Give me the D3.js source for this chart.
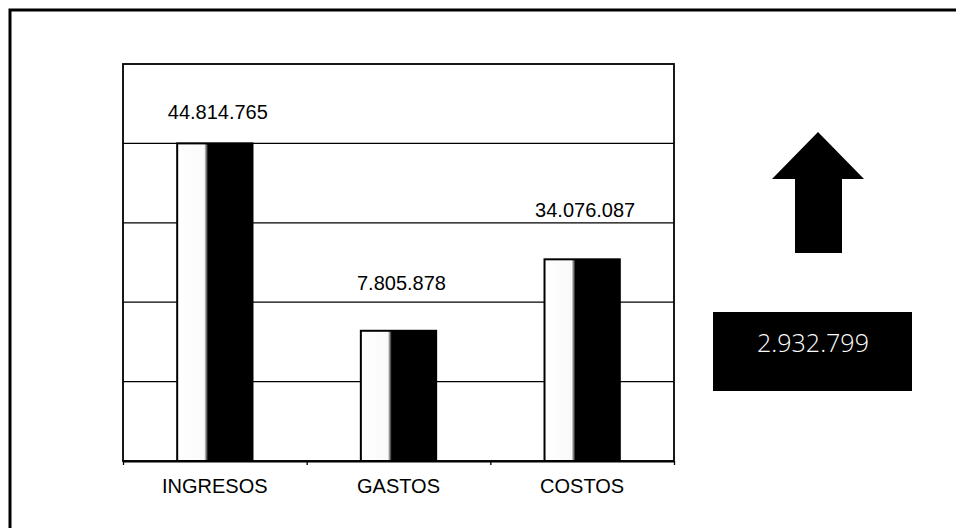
<!DOCTYPE html>
<html>
<head>
<meta charset="utf-8">
<script src="https://cdn.jsdelivr.net/npm/d3@7"></script>
<style>
	body { margin: 0; background: #fff; }
	svg { display: block; }
	.cat-label, .value-label { font-family: "Liberation Sans", Arial, sans-serif; font-size: 20px; fill: #000; }
	.result-label { font-family: "Open Sans", sans-serif; font-weight: 300; font-size: 25px; fill: #fff; }
</style>
</head>
<body>
<div id="chart"></div>
<script>
// categories and values (value labels as printed)
var categories = ["INGRESOS", "GASTOS", "COSTOS"];
var values = [44814765, 7805878, 34076087];
// bar heights as drawn, read in gridline units (the drawing is not to scale)
var barLevels = [4.0, 1.64, 2.54];
// where each value label sits, same units
var labelLevels = [4.4, 2.24, 3.16];
var gridLevels = [1, 2, 3, 4];
var resultValue = 2932799;

var locale = d3.formatLocale({decimal: ",", thousands: ".", grouping: [3], currency: ["$", ""]});
var fmt = locale.format(",d");

var width = 956, height = 528;
var plot = {left: 123, top: 64, right: 674, bottom: 461};

var svg = d3.select("#chart").append("svg")
	.attr("width", width)
	.attr("height", height);

// gradient for the bars: white on the left, black on the right
var grad = svg.append("defs").append("linearGradient")
	.attr("id", "barFill")
	.attr("x1", "0%").attr("x2", "100%")
	.attr("y1", "0%").attr("y2", "0%");
grad.append("stop").attr("offset", "0%").attr("stop-color", "#fff");
grad.append("stop").attr("offset", "36%").attr("stop-color", "#fafafa");
grad.append("stop").attr("offset", "41%").attr("stop-color", "#000");
grad.append("stop").attr("offset", "100%").attr("stop-color", "#000");

// outer frame (only top and left edges visible)
svg.append("path")
	.attr("d", "M10," + (height + 5) + "V10H" + (width + 5))
	.attr("fill", "none")
	.attr("stroke", "#000")
	.attr("stroke-width", 3);

var yScale = d3.scaleLinear()
	.domain([0, 5])
	.range([plot.bottom, plot.top]);

var xScale = d3.scaleBand()
	.domain(categories)
	.range([plot.left, plot.right])
	.padding(0);

var tickScale = d3.scaleLinear()
	.domain([0, categories.length])
	.range([plot.left, plot.right]);

// gridlines
svg.append("g").selectAll("line")
	.data(gridLevels).enter()
	.append("line")
	.attr("x1", plot.left).attr("x2", plot.right)
	.attr("y1", function(d){ return yScale(d); })
	.attr("y2", function(d){ return yScale(d); })
	.attr("stroke", "#000")
	.attr("stroke-width", 1.3);

// plot box
svg.append("rect")
	.attr("x", plot.left).attr("y", plot.top)
	.attr("width", plot.right - plot.left)
	.attr("height", plot.bottom - plot.top)
	.attr("fill", "none")
	.attr("stroke", "#000")
	.attr("stroke-width", 1.8);

// bottom ticks at category boundaries
svg.append("g")
	.attr("transform", "translate(0," + plot.bottom + ")")
	.call(d3.axisBottom(tickScale).ticks(categories.length).tickSize(4).tickSizeOuter(0).tickFormat(""))
	.call(function(g){
		g.select(".domain").attr("stroke-width", 1.8);
		g.selectAll(".tick line").attr("stroke-width", 1.3);
	});

// bars
var barWidth = xScale.bandwidth() * 0.41;
svg.append("g").selectAll("rect")
	.data(barLevels).enter()
	.append("rect")
	.attr("x", function(d, i){ return xScale(categories[i]) + xScale.bandwidth() / 2 - barWidth / 2; })
	.attr("y", function(d){ return yScale(d); })
	.attr("width", barWidth)
	.attr("height", function(d){ return yScale(0) - yScale(d); })
	.attr("fill", "url(#barFill)")
	.attr("stroke", "#000")
	.attr("stroke-width", 2);

// value labels
svg.append("g").selectAll("text")
	.data(values).enter()
	.append("text")
	.attr("class", "value-label")
	.attr("text-anchor", "middle")
	.attr("x", function(d, i){ return xScale(categories[i]) + xScale.bandwidth() / 2 + 3; })
	.attr("y", function(d, i){ return yScale(labelLevels[i]) + 7; })
	.text(function(d){ return fmt(d); });

// category labels
svg.append("g").selectAll("text")
	.data(categories).enter()
	.append("text")
	.attr("class", "cat-label")
	.attr("text-anchor", "middle")
	.attr("x", function(d){ return xScale(d) + xScale.bandwidth() / 2; })
	.attr("y", plot.bottom + 32)
	.text(function(d){ return d; });

// up arrow
var arrow = svg.append("g").attr("transform", "translate(818,132)");
arrow.append("path")
	.attr("d", "M0,0L46,47H24V121H-23V47H-46Z")
	.attr("fill", "#000");

// result box
var box = svg.append("g").attr("transform", "translate(713,312)");
box.append("rect")
	.attr("width", 199)
	.attr("height", 79)
	.attr("fill", "#000");
box.append("text")
	.attr("class", "result-label")
	.attr("text-anchor", "middle")
	.attr("x", 100)
	.attr("y", 40)
	.text(fmt(resultValue));
</script>
</body>
</html>
